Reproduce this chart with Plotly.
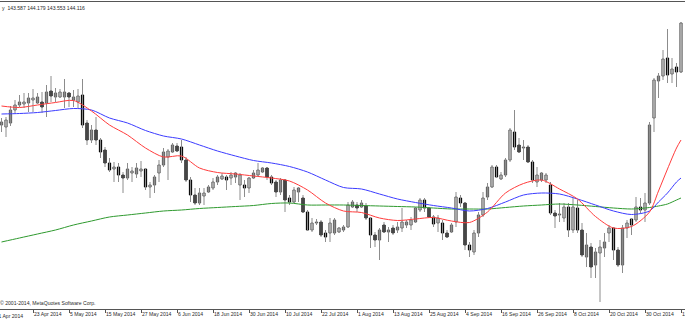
import pandas as pd
import plotly.graph_objects as go

# Daily bars (business days) shown in the chart
dates = [d.strftime("%Y-%m-%d") for d in pd.bdate_range("2014-04-14", "2014-11-11")]

opens = [141.00, 140.92, 141.08, 141.60, 141.80, 141.84, 141.88, 142.00, 141.88, 141.92,
         141.88, 142.36, 142.12, 142.12, 142.12, 142.28, 142.00, 141.92, 142.20, 141.08,
         140.40, 140.80, 140.40, 140.00, 139.48, 139.24, 139.32, 139.00, 138.88, 139.08,
         139.04, 139.16, 139.24, 138.52, 138.60, 139.08, 139.40, 139.72, 139.92, 140.16,
         140.12, 139.60, 138.80, 138.20, 137.88, 138.16, 138.32, 138.48, 138.72, 138.84,
         138.92, 138.88, 138.92, 138.60, 138.60, 138.48, 138.88, 139.00, 139.12, 139.28,
         138.92, 138.72, 138.32, 138.80, 138.08, 137.92, 138.32, 138.08, 137.52, 136.80,
         137.08, 137.12, 136.68, 136.68, 136.68, 136.72, 136.80, 136.92, 137.72, 137.80,
         137.72, 137.76, 137.28, 136.60, 136.40, 137.00, 136.72, 136.88, 136.80, 136.88,
         137.00, 137.00, 137.12, 137.60, 138.00, 137.68, 137.32, 137.08, 137.08, 136.68,
         136.72, 137.12, 138.08, 137.88, 136.20, 135.92, 136.68, 137.40, 138.12, 138.52,
         139.32, 138.84, 139.00, 139.60, 140.72, 140.20, 140.08, 140.12, 139.52, 138.72,
         138.80, 138.80, 138.60, 137.48, 137.40, 137.28, 137.72, 136.80, 137.68, 136.80,
         135.72, 136.12, 135.40, 135.88, 136.08, 136.68, 136.88, 136.00, 135.40, 136.88,
         137.24, 137.20, 137.72, 137.60, 137.88, 141.28, 142.76, 142.96, 143.68, 143.04,
         143.32, 143.12]
highs = [141.28, 141.32, 141.76, 142.00, 142.20, 142.28, 142.28, 142.44, 142.28, 142.32,
         142.60, 142.96, 142.48, 142.44, 142.84, 142.32, 142.40, 142.44, 142.84, 141.20,
         141.00, 141.32, 140.48, 140.12, 139.68, 139.52, 139.48, 139.12, 139.48, 139.32,
         139.48, 139.56, 139.28, 138.72, 139.00, 139.60, 140.08, 140.04, 140.28, 140.28,
         140.40, 139.72, 138.92, 138.48, 138.48, 138.48, 138.60, 138.88, 139.00, 139.08,
         139.00, 139.12, 139.12, 139.08, 138.80, 138.92, 139.20, 139.48, 139.32, 139.32,
         139.00, 138.80, 138.88, 138.84, 138.20, 138.52, 138.52, 138.20, 137.60, 137.28,
         137.24, 137.20, 136.80, 137.28, 137.28, 136.92, 137.00, 137.92, 138.00, 137.92,
         138.00, 137.88, 137.32, 136.72, 136.88, 137.12, 136.92, 137.00, 137.12, 137.68,
         137.20, 137.32, 137.72, 138.08, 138.08, 137.72, 137.40, 137.40, 137.20, 136.80,
         137.08, 138.32, 138.20, 137.92, 136.32, 136.80, 137.52, 138.32, 138.68, 139.40,
         139.40, 139.12, 139.68, 140.88, 141.60, 140.48, 140.40, 140.20, 139.60, 139.32,
         139.12, 139.08, 138.72, 137.60, 137.88, 137.88, 137.88, 138.12, 138.00, 137.08,
         136.68, 136.28, 136.08, 136.40, 136.68, 137.00, 136.92, 136.12, 137.00, 137.20,
         137.28, 138.12, 138.08, 138.28, 141.12, 142.88, 143.08, 144.00, 144.84, 143.68,
         143.48, 145.12]
lows = [140.72, 140.52, 140.96, 141.48, 141.72, 141.68, 141.52, 141.52, 141.84, 141.48,
        141.32, 141.92, 141.92, 142.08, 141.68, 141.72, 141.72, 141.68, 140.88, 140.20,
        140.28, 140.20, 139.68, 139.32, 139.12, 138.72, 138.72, 138.28, 138.80, 138.72,
        138.88, 138.92, 138.40, 138.08, 138.28, 138.72, 139.32, 138.80, 139.88, 139.92,
        139.48, 138.72, 137.92, 137.80, 137.80, 137.80, 138.28, 138.40, 138.60, 138.80,
        138.40, 138.60, 138.68, 138.00, 138.12, 138.28, 138.84, 138.92, 139.08, 138.80,
        138.60, 138.12, 138.20, 137.52, 137.80, 137.88, 137.92, 137.48, 136.76, 136.72,
        137.00, 136.52, 136.32, 136.32, 136.60, 136.68, 136.72, 136.88, 137.68, 137.52,
        137.68, 137.20, 136.08, 136.12, 135.60, 136.68, 136.32, 136.60, 136.68, 136.72,
        136.88, 136.80, 137.08, 137.52, 137.52, 137.28, 136.92, 136.72, 136.40, 136.48,
        136.68, 136.92, 137.72, 136.00, 135.72, 135.80, 136.52, 137.32, 138.00, 138.48,
        138.88, 138.80, 138.92, 139.52, 140.00, 139.88, 139.60, 139.48, 138.68, 138.52,
        138.72, 138.68, 137.40, 136.88, 137.12, 137.12, 136.52, 136.68, 136.68, 135.72,
        135.32, 134.88, 134.88, 133.92, 135.72, 136.32, 135.60, 135.32, 135.08, 136.48,
        136.60, 137.12, 137.48, 137.12, 137.80, 140.72, 142.08, 142.80, 142.68, 142.68,
        142.52, 143.08]
closes = [141.12, 141.20, 141.60, 141.80, 141.92, 141.92, 142.08, 142.08, 142.12, 141.72,
          142.32, 142.16, 142.28, 142.32, 142.32, 142.12, 142.12, 142.16, 141.00, 140.40,
          140.80, 140.40, 139.92, 139.48, 139.20, 139.32, 139.00, 138.88, 139.24, 139.16,
          139.28, 139.24, 138.52, 138.60, 138.92, 139.40, 139.92, 139.96, 140.20, 139.96,
          139.60, 138.80, 138.20, 137.88, 138.28, 138.28, 138.52, 138.72, 138.92, 138.96,
          138.80, 139.00, 139.08, 139.00, 138.48, 138.88, 139.08, 139.20, 139.28, 138.92,
          138.68, 138.32, 138.80, 138.00, 137.92, 138.40, 138.48, 137.52, 136.80, 137.08,
          137.12, 136.60, 136.52, 137.08, 137.20, 136.88, 136.92, 137.80, 137.92, 137.68,
          137.88, 137.28, 136.60, 136.40, 136.80, 136.72, 136.80, 136.68, 136.92, 137.12,
          137.12, 137.20, 137.68, 138.00, 137.68, 137.32, 137.04, 137.28, 136.68, 136.52,
          137.00, 138.12, 137.88, 136.20, 136.00, 136.68, 137.40, 138.08, 138.52, 139.32,
          138.92, 139.00, 139.60, 140.80, 140.12, 139.92, 140.12, 139.52, 138.80, 139.00,
          139.08, 139.00, 137.48, 137.36, 137.44, 137.72, 136.80, 137.72, 136.80, 135.80,
          136.20, 135.32, 135.92, 136.12, 136.32, 136.88, 136.00, 135.40, 136.88, 137.08,
          137.00, 137.72, 137.60, 137.88, 141.00, 142.80, 142.96, 143.64, 143.00, 143.24,
          143.12, 145.08]

# Moving averages read at sampled bars (bar index into dates)
ma_idx = [0, 4, 8, 12, 16, 20, 24, 28, 32, 36, 40, 44, 48, 52, 56, 60, 64, 68, 72, 76,
          80, 84, 88, 92, 96, 100, 104, 108, 112, 116, 120, 124, 128, 132, 136, 140, 144,
          146, 148, 150, 151]
red_ma = [141.76, 141.70, 141.80, 141.90, 141.98, 141.56, 141.00, 140.60, 140.08, 139.72,
          139.76, 139.28, 139.10, 139.04, 138.96, 138.88, 138.76, 138.40, 137.88, 137.56,
          137.50, 137.28, 137.18, 137.24, 137.30, 137.16, 137.10, 137.52, 138.28, 138.66,
          138.80, 138.44, 138.04, 137.34, 136.88, 136.94, 137.52, 138.36, 139.24, 140.08,
          140.40]
blue_ma = [141.44, 141.46, 141.50, 141.58, 141.66, 141.60, 141.28, 141.08, 140.78, 140.56,
           140.44, 140.20, 139.96, 139.76, 139.58, 139.48, 139.34, 139.12, 138.80, 138.50,
           138.44, 138.24, 138.04, 137.90, 137.78, 137.68, 137.56, 137.66, 137.92, 138.20,
           138.28, 138.24, 138.04, 137.80, 137.56, 137.42, 137.56, 137.92, 138.28, 138.72,
           138.88]
green_ma = [136.32, 136.48, 136.64, 136.80, 137.00, 137.16, 137.32, 137.40, 137.48, 137.56,
            137.60, 137.66, 137.70, 137.74, 137.78, 137.86, 137.88, 137.80, 137.80, 137.80,
            137.78, 137.76, 137.74, 137.72, 137.68, 137.64, 137.64, 137.64, 137.70, 137.76,
            137.80, 137.84, 137.80, 137.74, 137.68, 137.64, 137.70, 137.76, 137.84, 138.00,
            138.08]

tick_dates = ["2014-04-23", "2014-05-05", "2014-05-15", "2014-05-27", "2014-06-06",
              "2014-06-18", "2014-06-30", "2014-07-10", "2014-07-22", "2014-08-01",
              "2014-08-13", "2014-08-25", "2014-09-04", "2014-09-16", "2014-09-26",
              "2014-10-08", "2014-10-20", "2014-10-30", "2014-11-11"]
tick_labels = ["23 Apr 2014", "5 May 2014", "15 May 2014", "27 May 2014", "6 Jun 2014",
               "18 Jun 2014", "30 Jun 2014", "10 Jul 2014", "22 Jul 2014", "1 Aug 2014",
               "13 Aug 2014", "25 Aug 2014", "4 Sep 2014", "16 Sep 2014", "26 Sep 2014",
               "8 Oct 2014", "20 Oct 2014", "30 Oct 2014", "11 Nov 2014"]
header_text = "y  143.587 144.179 143.553 144.116"
copyright_text = "\u00a9 2001-2014, MetaQuotes Software Corp."
cut_label = "11 Apr 2014"   # label of the bar just left of the visible window

FONT = "Liberation Sans"
FS = 5.1
TXT = "#2a2a2a"

# bar position on the axis = its index in the trading-day list
pos = {d: k for k, d in enumerate(dates)}
xs = [pos[d] for d in dates]
x_range = [-1 / 3, -1 / 3 + 685 / 4.5]

fig = go.Figure()

# wicks
wx, wy = [], []
for x, lo, hi in zip(xs, lows, highs):
    wx += [x, x, None]
    wy += [lo, hi, None]
fig.add_trace(go.Scatter(x=wx, y=wy, mode="lines", line=dict(color="#8c8c8c", width=1),
                         hoverinfo="skip"))

# bodies
base = [min(o, c) for o, c in zip(opens, closes)]
height = [max(abs(c - o), 0.02) for o, c in zip(opens, closes)]
up = [c >= o for o, c in zip(opens, closes)]
fig.add_trace(go.Bar(x=xs, y=height, base=base, width=0.5,
                     marker=dict(color=["#ffffff" if u else "#000000" for u in up],
                                 line=dict(color=["#555555" if u else "#000000" for u in up],
                                           width=1))))

ma_x = [xs[i] for i in ma_idx]
for vals, col in [(green_ma, "#2f9a2f"), (blue_ma, "#3c3cff"), (red_ma, "#ff3c3c")]:
    fig.add_trace(go.Scatter(x=ma_x, y=vals, mode="lines",
                             line=dict(color=col, width=1, shape="spline", smoothing=0.8),
                             hoverinfo="skip"))

fig.update_layout(
    width=685, height=320, margin=dict(l=0, r=0, t=2, b=11, autoexpand=False),
    paper_bgcolor="white", plot_bgcolor="white", showlegend=False,
    font=dict(family=FONT, size=FS, color=TXT),
)
fig.update_xaxes(type="linear", range=x_range, autorange=False, automargin=False,
                 showgrid=False, zeroline=False, showline=True, linecolor="#555555",
                 linewidth=1, mirror=True, ticks="outside", ticklen=3, tickcolor="#555555",
                 tickmode="array", tickvals=[pos[t] for t in tick_dates], ticktext=tick_labels,
                 tickangle=0, ticklabelposition="outside right", ticklabeloverflow="allow",
                 tickfont=dict(family=FONT, size=FS, color=TXT))
fig.update_yaxes(range=[133.64, 145.92], autorange=False, automargin=False, showgrid=False,
                 zeroline=False, showticklabels=False, showline=False)

fig.add_annotation(x=0, y=1, xref="paper", yref="paper", xanchor="left", yanchor="top",
                   text=header_text, showarrow=False, xshift=0, yshift=-1,
                   font=dict(family=FONT, size=FS, color=TXT))
fig.add_annotation(x=0, y=0, xref="paper", yref="paper", xanchor="left", yanchor="bottom",
                   text=copyright_text, showarrow=False, xshift=-2, yshift=1,
                   font=dict(family=FONT, size=FS, color=TXT))
# the bar before the first visible one sits just outside the axis range
cut_x = (-1 - x_range[0]) / (x_range[1] - x_range[0])
fig.add_annotation(x=cut_x, y=0, xref="paper", yref="paper", xanchor="left", yanchor="top",
                   text=cut_label, showarrow=False, xshift=-3, yshift=-2,
                   font=dict(family=FONT, size=FS, color=TXT))

fig.write_html("out.html")
